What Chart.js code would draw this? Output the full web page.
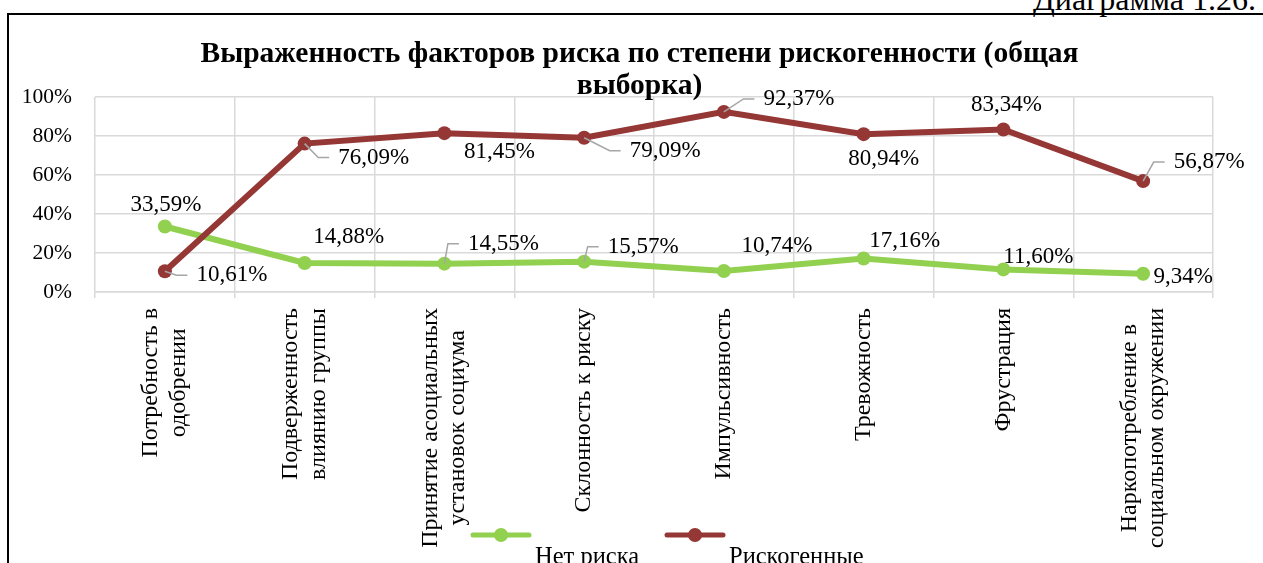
<!DOCTYPE html>
<html lang="ru">
<head>
<meta charset="utf-8">
<title>Выраженность факторов риска</title>
<script src="https://cdn.jsdelivr.net/npm/chart.js@4.4.0/dist/chart.umd.min.js"></script>
<style>
  html, body { margin: 0; padding: 0; background: #fff; overflow: hidden; }
  #wrap { position: relative; width: 1263px; height: 563px; overflow: hidden; }
  #frame {
    position: absolute; left: 7px; top: 13px; width: 1300px; height: 600px;
    border-left: 2px solid #000; border-top: 2px solid #000;
  }
  #caption {
    position: absolute; left: 1033px; top: -19px; line-height: 32px;
    font: 32px "Liberation Serif", serif; color: #000; white-space: nowrap;
  }
  #chart { position: absolute; left: 0; top: 0; }
</style>
</head>
<body>
<div id="wrap">
  <div id="caption">Диаграмма 1.26.</div>
  <div id="frame"></div>
  <canvas id="chart" width="1263" height="563"></canvas>
</div>
<script>
// ===== Data =====
const titleLines = [
  'Выраженность факторов риска по степени рискогенности (общая',
  'выборка)'
];
const categories = [
  ['Потребность в', 'одобрении'],
  ['Подверженность', 'влиянию группы'],
  ['Принятие асоциальных', 'установок социума'],
  ['Склонность к риску'],
  ['Импульсивность'],
  ['Тревожность'],
  ['Фрустрация'],
  ['Наркопотребление в', 'социальном окружении']
];
const seriesNames = ['Нет риска', 'Рискогенные'];
const noRisk = [33.59, 14.88, 14.55, 15.57, 10.74, 17.16, 11.60, 9.34];
const riskGenic = [10.61, 76.09, 81.45, 79.09, 92.37, 80.94, 83.34, 56.87];
const yTickStep = 20;
const yMax = 100;

// ===== Styles =====
const FONT = '"Liberation Serif", "Times New Roman", serif';
const GREEN = '#92d050';
const RED = '#953735';
const GRID = '#d9d9d9';
const LEADER = '#a6a6a6';

// label offsets from the point (px), and whether a leader line is drawn
const noRiskLabelPos = [[1, -22], [44, -26], [59, -20], [59, -15], [53, -25], [41, -18], [35, -12], [40, 3]];
const noRiskLeader = [false, false, true, true, false, false, false, false];
const riskLabelPos = [[67, 4], [69, 14], [55, 19], [81, 13], [75, -13], [20, 25], [3, -25], [66, -19]];
const riskLeader = [true, true, false, true, true, false, false, true];

function fmtPct(v) {
  return v.toFixed(2).replace('.', ',') + '%';
}

// ===== Plugins =====
// title is centred on the whole chart frame, not on the canvas
const frameTitle = {
  id: 'frameTitle',
  afterDraw(chart) {
    const ctx = chart.ctx;
    ctx.save();
    ctx.font = 'bold 29.5px ' + FONT;
    ctx.fillStyle = '#000';
    ctx.textAlign = 'center';
    ctx.textBaseline = 'alphabetic';
    titleLines.forEach((t, i) => ctx.fillText(t, 639.5, 62 + i * 31.5));
    ctx.restore();
  }
};

const dataLabels = {
  id: 'dataLabels',
  afterDatasetsDraw(chart) {
    const ctx = chart.ctx;
    ctx.save();
    ctx.font = '23px ' + FONT;
    ctx.textBaseline = 'middle';
    chart.data.datasets.forEach((ds, di) => {
      const meta = chart.getDatasetMeta(di);
      meta.data.forEach((pt, i) => {
        const [dx, dy] = ds.labelPos[i];
        const text = fmtPct(ds.data[i]);
        const w = ctx.measureText(text).width;
        const cx = pt.x + dx;
        const cy = pt.y + dy;
        if (ds.leader[i]) {
          const left = cx - w / 2;
          ctx.strokeStyle = LEADER;
          ctx.lineWidth = 1.5;
          ctx.beginPath();
          ctx.moveTo(pt.x, pt.y);
          ctx.lineTo(left - 20, cy);
          ctx.lineTo(left - 9, cy);
          ctx.stroke();
        }
        ctx.fillStyle = '#000';
        ctx.textAlign = 'center';
        ctx.fillText(text, cx, cy);
      });
    });
    ctx.restore();
  }
};

const rotatedLabels = {
  id: 'rotatedLabels',
  afterDraw(chart) {
    const ctx = chart.ctx;
    const scale = chart.scales.x;
    const top = scale.top + 16;
    const lineH = 27.5;
    ctx.save();
    ctx.font = '24px ' + FONT;
    ctx.fillStyle = '#000';
    ctx.textAlign = 'center';
    ctx.textBaseline = 'middle';
    categories.forEach((lines, i) => {
      const cx = scale.getPixelForValue(i);
      const maxW = Math.max(...lines.map((l) => ctx.measureText(l).width));
      ctx.save();
      ctx.translate(cx, top);
      ctx.rotate(-Math.PI / 2);
      lines.forEach((l, j) => {
        ctx.fillText(l, -maxW / 2, (j - (lines.length - 1) / 2) * lineH);
      });
      ctx.restore();
    });
    ctx.restore();
  }
};

const lineLegend = {
  id: 'lineLegend',
  afterDraw(chart) {
    const ctx = chart.ctx;
    const starts = [473, 667];
    const y = 535;
    ctx.save();
    ctx.font = '24.5px ' + FONT;
    ctx.textBaseline = 'alphabetic';
    ctx.textAlign = 'left';
    [GREEN, RED].forEach((color, i) => {
      const x0 = starts[i];
      ctx.strokeStyle = color;
      ctx.lineWidth = 5;
      ctx.lineCap = 'round';
      ctx.beginPath();
      ctx.moveTo(x0, y);
      ctx.lineTo(x0 + 56, y);
      ctx.stroke();
      ctx.fillStyle = color;
      ctx.beginPath();
      ctx.arc(x0 + 28, y, 7, 0, Math.PI * 2);
      ctx.fill();
      ctx.fillStyle = '#000';
      ctx.fillText(seriesNames[i], x0 + 62, y + 29);
    });
    ctx.restore();
  }
};

// ===== Chart =====
const ctx = document.getElementById('chart').getContext('2d');
new Chart(ctx, {
  type: 'line',
  data: {
    labels: categories.map((c) => c.join(' ')),
    datasets: [
      {
        label: seriesNames[0],
        data: noRisk,
        borderColor: GREEN,
        backgroundColor: GREEN,
        borderWidth: 6,
        pointRadius: 7,
        pointBorderWidth: 0,
        pointBackgroundColor: GREEN,
        tension: 0,
        order: 1,
        labelPos: noRiskLabelPos,
        leader: noRiskLeader
      },
      {
        label: seriesNames[1],
        data: riskGenic,
        borderColor: RED,
        backgroundColor: RED,
        borderWidth: 6,
        pointRadius: 7,
        pointBorderWidth: 0,
        pointBackgroundColor: RED,
        tension: 0,
        order: 0,
        labelPos: riskLabelPos,
        leader: riskLeader
      }
    ]
  },
  options: {
    responsive: false,
    animation: false,
    layout: { padding: { left: 0, right: 50, top: 97, bottom: 0 } },
    scales: {
      x: {
        offset: true,
        grid: { offset: true, color: GRID, lineWidth: 1.5, tickLength: 6 },
        border: { color: GRID, width: 1.5 },
        ticks: { display: false },
        afterFit: (axis) => { axis.height = 271; }
      },
      y: {
        min: 0,
        max: yMax,
        ticks: {
          stepSize: yTickStep,
          padding: 23,
          color: '#000',
          font: { family: FONT, size: 21.5 },
          callback: (v) => v + '%'
        },
        grid: { color: GRID, lineWidth: 1.5, drawTicks: false },
        border: { display: false },
        afterFit: (axis) => { axis.width = 95; }
      }
    },
    plugins: {
      title: { display: false },
      legend: { display: false },
      tooltip: { enabled: false }
    }
  },
  plugins: [frameTitle, dataLabels, rotatedLabels, lineLegend]
});
</script>
</body>
</html>
